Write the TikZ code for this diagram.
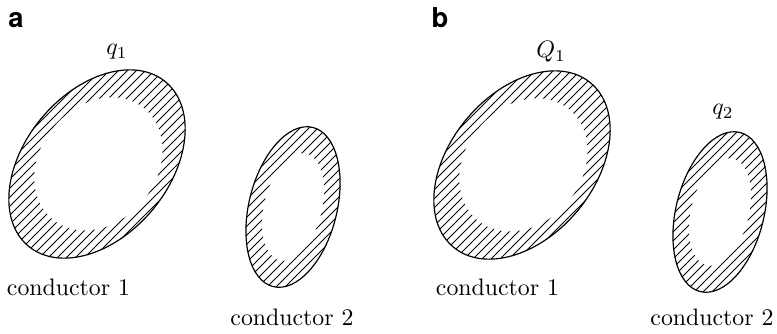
\documentclass[tikz,border=0pt]{standalone}
\usepackage{fontspec}
\newfontfamily\heros{TeX Gyre Heros}
\tikzset{
  outline/.style={line width=0.5pt},
  hatchline/.style={line width=0.38pt},
  lbl/.style={inner sep=0pt, font=\fontsize{10}{12}\selectfont},
  panel/.style={inner sep=0pt, anchor=base, font=\heros\bfseries\fontsize{11.5}{13}\selectfont}
}
% #1 center, #2 rotation, #3 outer a, #4 outer b, #5 inner shift, #6 inner a, #7 inner b
\newcommand\hatchring[7]{%
\begin{scope}[shift={#1},rotate=#2]
  \begin{scope}[even odd rule]
    \clip (0,0) ellipse [x radius=#3, y radius=#4] #5 ellipse [x radius=#6, y radius=#7];
    \begin{scope}[rotate=-#2]
      \foreach \k in {-30,...,30}
        \draw[hatchline] (\k*9-130,-130) -- (\k*9+130,130);
    \end{scope}
  \end{scope}
  \draw[outline] (0,0) ellipse [x radius=#3, y radius=#4];
\end{scope}}
\begin{document}
\begin{tikzpicture}[x=0.42pt,y=0.42pt]
\useasboundingbox (0,0) rectangle (777,333);
% panel a
\node[panel] (pa) at (16,306) {a};
\hatchring{(97,169)}{50}{107}{72}{(1,-1)}{72}{58}
\hatchring{(293,126)}{76}{82}{44}{(0,0)}{55}{29}
\node[lbl] (qa) at (117,281) {$q_1$};
\node[lbl,anchor=base] (ca1) at (68.5,38) {conductor 1};
\node[lbl,anchor=base] (ca2) at (292,8) {conductor 2};
% panel b
\node[panel] (pb) at (440,306) {b};
\hatchring{(522,168)}{50}{107}{72}{(1,-1)}{72}{58}
\hatchring{(720,121)}{76}{82}{44}{(0,0)}{55}{29}
\node[lbl] (Qb) at (551,281) {$Q_1$};
\node[lbl] (qb) at (723,221) {$q_2$};
\node[lbl,anchor=base] (cb1) at (497.5,38) {conductor 1};
\node[lbl,anchor=base] (cb2) at (712,8) {conductor 2};
\end{tikzpicture}
\end{document}
